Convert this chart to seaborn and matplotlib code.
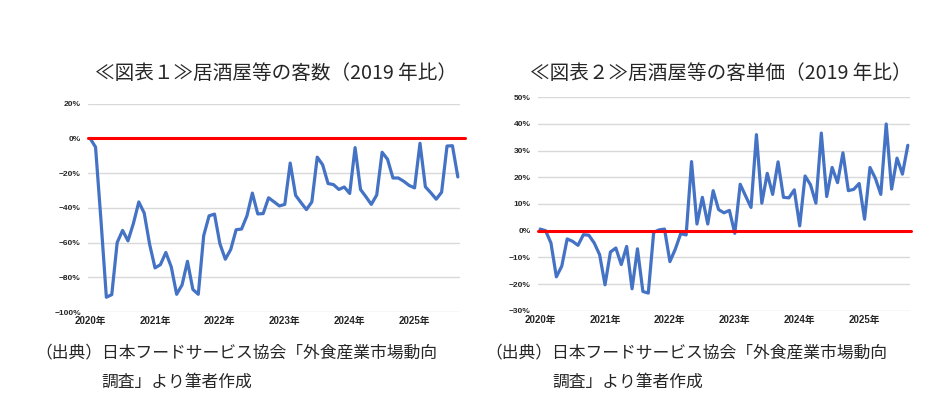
import matplotlib
matplotlib.use("Agg")
import numpy as np
import pandas as pd
import matplotlib.pyplot as plt
import seaborn as sns

# monthly data, 2020/01 - 2025/09, % vs 2019
customers = [0, -5, -47, -91.5, -90, -60, -53, -59, -49, -36.6, -43, -61,
             -74.6, -72.7, -65.7, -74, -89.8, -84.4, -70.8, -87, -89.8, -56, -44.6, -43.6,
             -60.7, -69.6, -64, -52.6, -52.2, -44.6, -31.5, -43.5, -43.3, -34.2, -36.5, -38.9,
             -38, -14.2, -32.8, -37, -41, -36.6, -10.8, -15.2, -26, -26.6, -29.4, -28,
             -31.7, -5.3, -29.4, -33.6, -38, -32.6, -8, -12, -22.8, -22.8, -24.7, -27.1,
             -28.5, -2.8, -27.9, -31.3, -35, -31, -4.4, -4.2, -22.2]
unit_price = [0.6, 0, -4.6, -17.3, -13.3, -3.1, -4, -5.5, -1.5, -1.7, -4.6, -9,
              -20.3, -8, -6.5, -12.7, -5.9, -21.8, -6.8, -22.8, -23.4, -0.6, 0.3, 0.6,
              -11.6, -6.9, -1.1, -1.6, 25.9, 2.5, 12.5, 2.5, 15, 7.9, 6.7, 7.6,
              -1, 17.4, 13, 8.7, 36, 10.3, 21.5, 13.6, 25.8, 12.5, 12.3, 15.3,
              1.8, 20.5, 17.2, 10.3, 36.6, 12.8, 23.7, 18, 29.2, 15, 15.5, 17.7,
              4.3, 23.7, 19.6, 13.6, 40, 15.6, 27.2, 21.2, 32]
years = ["2020年", "2021年", "2022年", "2023年", "2024年", "2025年"]
titles = ["≪図表１≫居酒屋等の客数（2019 年比）", "≪図表２≫居酒屋等の客単価（2019 年比）"]
source = "（出典）日本フードサービス協会「外食産業市場動向"
source2 = "調査」より筆者作成"

sns.set_style("white")
plt.rcParams['font.family'] = ['Liberation Sans', 'Noto Sans CJK JP']

df = pd.DataFrame({"month": np.arange(len(customers)),
                   "customers": customers, "unit_price": unit_price})

fig = plt.figure(figsize=(9.34, 3.97), dpi=100)
ax1 = fig.add_axes([0.0939, 0.2141, 0.3986, 0.5247])
ax2 = fig.add_axes([0.5757, 0.2174, 0.3986, 0.5375])

blue = "#4472C4"
specs = [(ax1, "customers", (-100, 20), np.arange(-100, 21, 20), 1.013),
         (ax2, "unit_price", (-30, 50), np.arange(-30, 51, 10), 1.004)]

for ax, col, ylim, yt, xr in specs:
    sns.lineplot(data=df, x="month", y=col, ax=ax, color=blue, linewidth=2.3)
    ax.axhline(0, xmin=0, xmax=xr, color="#FF0000", linewidth=2.2, clip_on=False, zorder=3)
    ax.set_ylim(*ylim)
    ax.set_xlim(-0.45, 68.4)
    ax.set_yticks(yt)
    ax.set_yticklabels([f"{v}%".replace("-", "−") for v in yt], fontsize=6, fontweight="bold")
    ax.set_xticks(np.arange(0, 61, 12))
    ax.set_xticklabels(years, fontsize=7, fontweight="bold")
    ax.tick_params(axis="both", length=0)
    ax.tick_params(axis="y", pad=5)
    ax.tick_params(axis="x", pad=3)
    ax.grid(axis="y", color="#d9d9d9", linewidth=1)
    ax.set_axisbelow(True)
    for s in ax.spines.values():
        s.set_visible(False)
    ax.set_xlabel("")
    ax.set_ylabel("")

fig.text(0.2955, 0.816, titles[0], ha="center", va="center", fontsize=14.1,
         family=['Noto Sans CJK JP'])
fig.text(0.772, 0.816, titles[1], ha="center", va="center", fontsize=14.1,
         family=['Noto Sans CJK JP'])

for x1, x2 in [(35, 101), (485, 552.5)]:
    fig.text(x1 / 934, 1 - 353 / 397, source, ha="left", va="center", fontsize=12.1,
             family=['Noto Sans CJK JP'])
    fig.text(x2 / 934, 1 - 382.5 / 397, source2, ha="left", va="center", fontsize=12.1,
             family=['Noto Sans CJK JP'])

fig.savefig("out.png", dpi=100, facecolor="white")
